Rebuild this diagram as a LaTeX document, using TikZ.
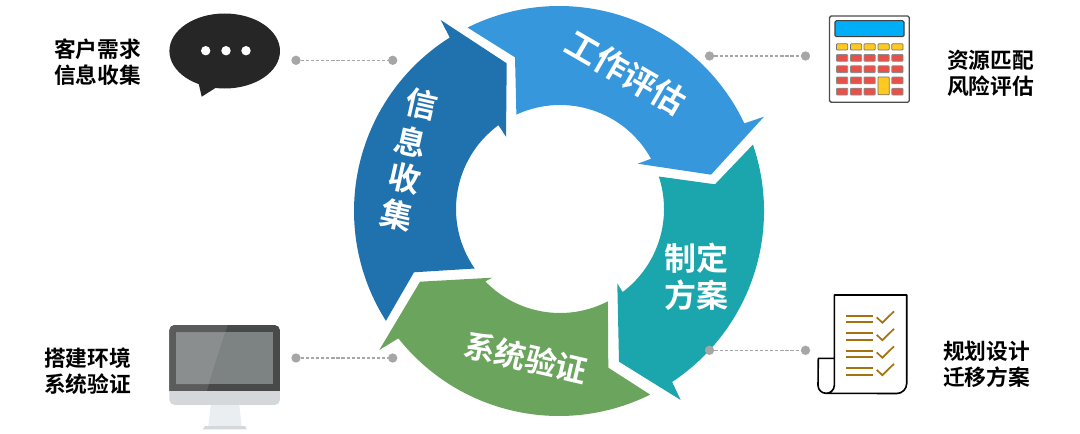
\documentclass[tikz,border=0pt]{standalone}
\usepackage{fontspec}
\setmainfont{Noto Sans CJK SC}[BoldFont=* Bold]
\usetikzlibrary{calc}
\definecolor{cblue}{HTML}{3797DC}
\definecolor{cteal}{HTML}{1BA5AC}
\definecolor{cgreen}{HTML}{6BA45C}
\definecolor{cdark}{HTML}{2072AE}
\definecolor{cdot}{HTML}{A6A6A6}
\definecolor{cgold}{HTML}{A5720F}
\definecolor{cyel}{HTML}{FFC91F}
\definecolor{cred}{HTML}{E8514A}
\definecolor{cscreen}{HTML}{00AEF7}
\definecolor{cbubble}{HTML}{262626}
\definecolor{mdark}{HTML}{484A4A}
\definecolor{mmid}{HTML}{5A5C5C}
\definecolor{mscrl}{HTML}{8A8E8E}
\definecolor{mscrr}{HTML}{7D8282}
\definecolor{mchin}{HTML}{D5D8DA}
\definecolor{mstand}{HTML}{EBEEF0}
\tikzset{
  ringtxt/.style={text=white,font=\bfseries\fontsize{24}{24}\selectfont,inner sep=0pt},
  sidetxt/.style={text=black,font=\bfseries\fontsize{16.3}{19.5}\selectfont,align=center,inner sep=0pt},
  pin/.style={circle,fill=cdot,inner sep=0pt,minimum size=7pt},
  lead/.style={draw=cdot,line width=0.8pt,dash pattern=on 2.4pt off 1.4pt},
  keyy/.style={fill=cyel,draw=black!55,line width=0.6pt,rounded corners=0.6pt},
  keyr/.style={fill=cred,draw=black!45,line width=0.6pt,rounded corners=0.6pt},
  chk/.style={draw=cgold,line width=1.3pt},
}
\begin{document}
\begin{tikzpicture}[x=0.75pt,y=0.75pt]
\useasboundingbox (0,0) rectangle (1080,433);
\coordinate (co) at (559,222);
\coordinate (ci) at (560,224);
% ring arrows
\fill[cblue] (co) ++(116.5:205) arc[start angle=116.5,end angle=25.3,radius=205]
  -- (764,316.3) -- (711,258.3) -- (637.7,269.3) -- ($(ci)+(28.9:104)$)
  arc[start angle=28.9,end angle=114.8,radius=104] -- (515,375.7) -- cycle;
\fill[cteal] (co) ++(18.9:205) arc[start angle=18.9,end angle=-56.5,radius=205]
  -- (680.7,33) -- (619,71.3) -- (617.3,149.7) -- ($(ci)+(-53:104)$)
  arc[start angle=-53,end angle=18.2,radius=104] -- (715,248.7) -- cycle;
\fill[cgreen] (co) ++(-63.6:205) arc[start angle=-63.6,end angle=-141.6,radius=205]
  -- (379.3,83) -- (420,151.3) -- (492.3,155.3) -- ($(ci)+(224.1:104)$)
  arc[start angle=224.1,end angle=297.4,radius=104] -- (608.3,65.3) -- cycle;
\fill[cdark] (co) ++(212.4:205) arc[start angle=212.4,end angle=122.2,radius=205]
  -- (440.7,413) -- (506.7,369.7) -- (506,296.3) -- ($(ci)+(126.3:104)$)
  arc[start angle=126.3,end angle=214.9,radius=104] -- (414,160.7) -- cycle;
\begin{scope}[shift={(0,433)},y=-0.75pt]
% ring text
\node[ringtxt,rotate=-30,font=\bfseries\fontsize{24.7}{24.7}\selectfont] (a) at (625.8,72.5) {工作评估};
\node[ringtxt] (b1) at (696,258) {制定};
\node[ringtxt] (b2) at (696,295) {方案};
\node[ringtxt,rotate=-13,font=\bfseries\fontsize{23.5}{23.5}\selectfont] (c) at (526,357.5) {系统验证};
\node[ringtxt,rotate=-12.7] (d1) at (421.7,104) {信};
\node[ringtxt,rotate=-12.7] (d2) at (410.7,141.7) {息};
\node[ringtxt,rotate=-12.7] (d3) at (405,178) {收};
\node[ringtxt,rotate=-12.7] (d4) at (396.7,215) {集};
% side labels
\node[sidetxt] (l1) at (97.5,62) {客户需求\\信息收集};
\node[sidetxt] (l2) at (87.5,371) {搭建环境\\系统验证};
\node[sidetxt] (l3) at (990.5,73) {资源匹配\\风险评估};
\node[sidetxt] (l4) at (986.5,364) {规划设计\\迁移方案};
% leaders
\node[pin] (p1a) at (296,60.3) {};
\node[pin] (p1b) at (392.7,60.3) {};
\draw[lead] (p1a) -- (p1b);
\node[pin] (p2a) at (296,358) {};
\node[pin] (p2b) at (392.7,358) {};
\draw[lead] (p2a) -- (p2b);
\node[pin] (p3a) at (709.5,56) {};
\node[pin] (p3b) at (805.5,56) {};
\draw[lead] (p3a) -- (p3b);
\node[pin] (p4a) at (709.5,350.3) {};
\node[pin] (p4b) at (805.5,350.3) {};
\draw[lead] (p4a) -- (p4b);
% speech bubble
\fill[cbubble] (224.7,51) ellipse[x radius=55.3,y radius=37.5];
\fill[cbubble] (198.3,82) -- (201.7,96.7) -- (217,87) -- cycle;
\foreach \x in {205.7,226,246} \fill[white] (\x,50.7) circle[radius=4.7];
% calculator
\draw[draw=black!70,fill=white,line width=1pt,rounded corners=1.2pt] (829.5,16) rectangle (909.3,102.3);
\draw[fill=cscreen,draw=black!75,line width=0.8pt,rounded corners=1pt] (835,20.7) rectangle (904,36.7);
\foreach \x in {836.5,850.5,864,878,891.8} \draw[keyy] (\x,43.8) rectangle ++(11.2,6.2);
\foreach \y in {54.5,65.8,77,88.2} \foreach \x in {836.5,850.5,864,891.8} \draw[keyr] (\x,\y) rectangle ++(11.2,6.8);
\foreach \y in {54.5,65.8} \draw[keyr] (878,\y) rectangle ++(11.2,6.8);
\draw[keyy] (878,77) rectangle ++(11.2,17.8);
% document
\draw[black,line width=1.2pt,line join=round,fill=white] (834.3,358.3) -- (834.3,295) -- (906.7,295) -- (906.7,383.5) arc[start angle=0,end angle=90,radius=10] -- (826,393.3)
  arc[start angle=90,end angle=180,radius=8] -- (818.3,358.3) -- (834.3,358.3) -- (834.3,385.3) arc[start angle=0,end angle=90,radius=8];
\foreach \y in {0,1,2,3}{
  \begin{scope}[yshift={\y*-17.5*0.75pt}]
  \draw[chk] (846,315.7) -- (872.7,315.7);
  \draw[chk] (846,322.3) -- (872.7,322.3);
  \draw[chk,line join=miter] (876.7,317.3) -- (882.3,322.7) -- (894,311.3);
  \end{scope}
}
% monitor
\begin{scope}
\clip[rounded corners=4pt] (169.3,325) rectangle (280,405);
\fill[mdark] (169.3,325) rectangle (280,391);
\fill[mmid] (169.3,325) -- (227.7,325) -- (206.7,391) -- (169.3,391) -- cycle;
\fill[mchin] (169.3,391) rectangle (280,405);
\end{scope}
\fill[mscrr] (176,332.3) rectangle (273.3,384);
\fill[mscrl] (176,332.3) -- (225,332.3) -- (208.5,384) -- (176,384) -- cycle;
\fill[mstand] (210.7,405) -- (239.3,405) -- (241.7,426) -- (208.3,426) -- cycle;
\fill[mchin] (205,426) -- (245,426) -- (246.7,429.3) -- (202.7,429.3) -- cycle;
\end{scope}
\end{tikzpicture}
\end{document}
